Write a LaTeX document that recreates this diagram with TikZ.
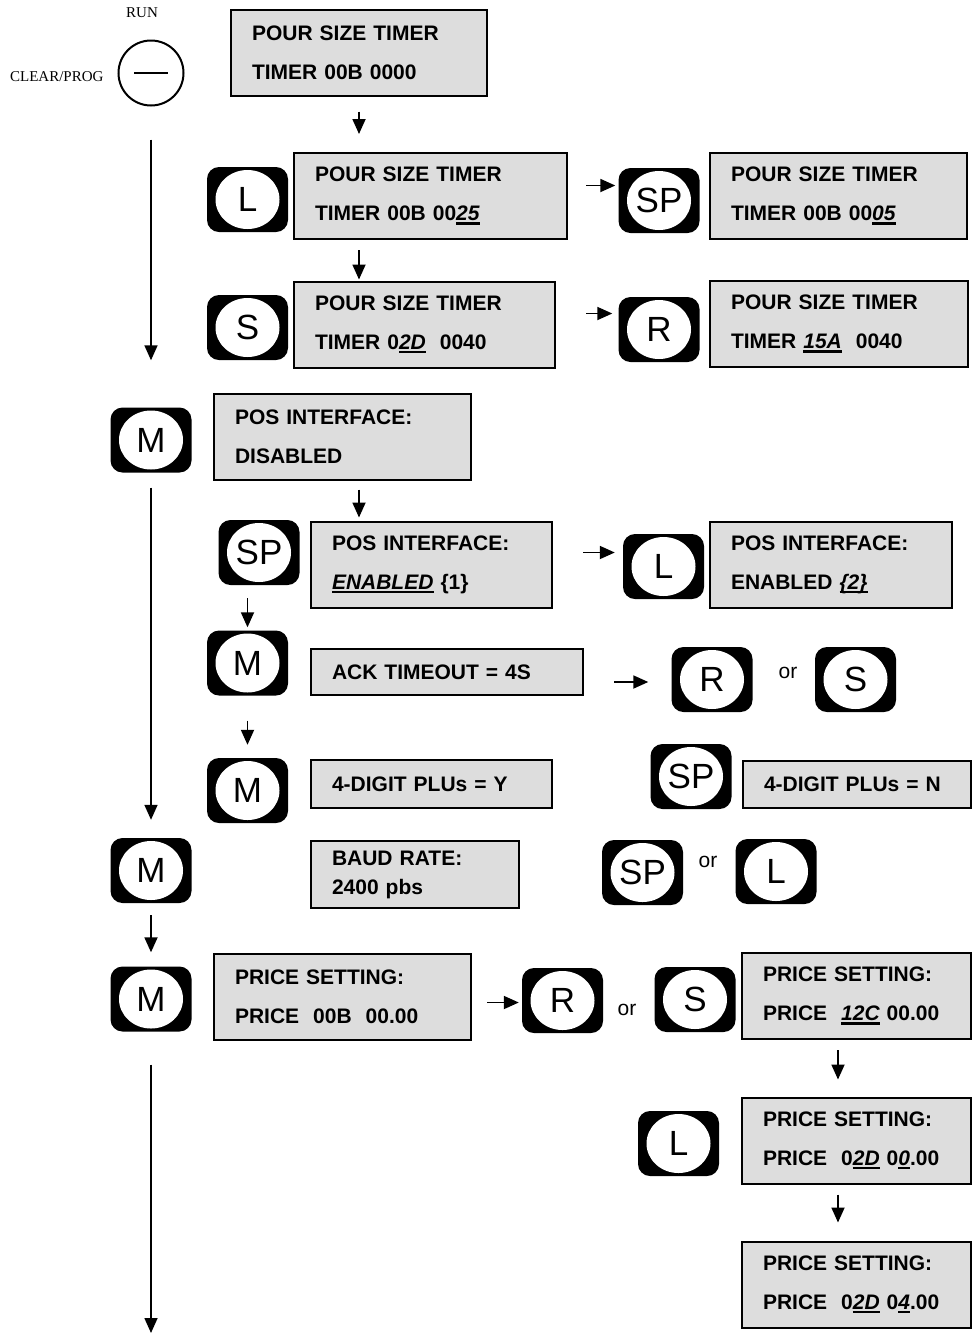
\documentclass[tikz,border=0pt]{standalone}
\usepackage{fontspec}
\setmainfont{Liberation Sans}
\newfontfamily\timesfont{Liberation Serif}
\usepackage{tikz}
\usetikzlibrary{arrows.meta,positioning,calc}
\usepackage{xcolor}
\definecolor{ScreenGrey}{HTML}{DDDDDD}
\newcommand{\screenfont}{\fontsize{21}{39}\selectfont\bfseries}
\newcommand{\keyfont}{\fontsize{35}{35}\selectfont}
\newsavebox{\cursbox}
\newcommand{\curs}[1]{\leavevmode\sbox{\cursbox}{\itshape #1}\rlap{\rule[-4pt]{\wd\cursbox}{2.5pt}}\usebox{\cursbox}}
\tikzset{
 screen/.style={draw=black, line width=2pt, fill=ScreenGrey, inner xsep=21pt, inner ysep=0pt, align=left, font=\screenfont, text width=#1pt-42pt, minimum height=86pt},
 keycap/.style={rectangle, rounded corners=12pt, fill=black, minimum width=81pt, minimum height=65pt, inner sep=0pt, font=\keyfont,
   path picture={\fill[white] (path picture bounding box.center) ellipse [x radius=32pt, y radius=29.5pt];}},
 orlabel/.style={font=\fontsize{21}{21}\selectfont, inner sep=0pt},
 arr/.style={-{Triangle[length=15pt,width=13pt]}, line width=1.8pt},
 longarr/.style={-{Triangle[length=15pt,width=13pt]}, line width=1.6pt}
}
\begin{document}
\begin{tikzpicture}[x=1pt,y=-1pt]
\useasboundingbox (0,0) rectangle (972,1334);
% mode switch
\node[font=\timesfont\fontsize{15}{15}\selectfont] (run) at (142,13) {RUN};
\node[font=\timesfont\fontsize{15}{15}\selectfont, anchor=east] (clr) at (107,77) {CLEAR/PROG};
\node[circle, draw, line width=2pt, minimum size=65pt, inner sep=0pt] (sw) at (151,73) {};
\draw[line width=2.5pt] ([xshift=-17pt]sw.center) -- ([xshift=17pt]sw.center);
\node[screen=256] (t0) at (359,52.5) {POUR SIZE TIMER\\TIMER 00B 0000};

% pour size timer
\node[keycap] (kL1) at (247.5,199.5) {L};
\node[screen=273] (b1) at (430.5,196) {POUR SIZE TIMER\\TIMER 00B 00\curs{25}};
\node[keycap] (kSP1) at (659,200.5) {SP};
\node[screen=257] (b2) at (838.5,196) {POUR SIZE TIMER\\TIMER 00B 00\curs{05}};
\node[keycap] (kS1) at (247.5,327.5) {S};
\node[screen=261] (b3) at (424.5,324.5) {POUR SIZE TIMER\\TIMER 0\curs{2D}\ \ 0040};
\node[keycap] (kR1) at (659,329.5) {R};
\node[screen=258] (b4) at (839,324) {POUR SIZE TIMER\\TIMER \curs{15A}\ \ 0040};

% pos interface
\node[keycap] (m1) at (151,440) {M};
\node[screen=257] (b5) at (342.5,436.5) {POS INTERFACE:\\DISABLED};
\node[keycap] (kSP2) at (259,552.5) {SP};
\node[screen=241] (b6) at (431.5,564.5) {POS INTERFACE:\\\curs{ENABLED} \{1\}};
\node[keycap] (kL2) at (663.5,566.5) {L};
\node[screen=242] (b7) at (831,564.5) {POS INTERFACE:\\ENABLED \curs{\{2\}}};
\node[keycap] (m2) at (247.5,663) {M};
\node[screen=272, minimum height=46pt] (b8) at (447,672) {ACK TIMEOUT = 4S};
\node[keycap] (kR2) at (712,679.5) {R};
\node[orlabel] (or1) at (788,673) {or};
\node[keycap] (kS2) at (855.5,679.5) {S};
\node[keycap] (m3) at (247.5,790.5) {M};
\node[screen=241, minimum height=48pt] (b9) at (431.5,784) {4-DIGIT PLUs = Y};
\node[keycap] (kSP3) at (691,776.5) {SP};
\node[screen=228, minimum height=47pt] (b10) at (857,784.5) {4-DIGIT PLUs = N};

% baud rate
\node[keycap] (m4) at (151,870.5) {M};
\node[screen=208, minimum height=67pt, font=\fontsize{21}{29}\selectfont\bfseries] (b11) at (415,874.5) {BAUD RATE:\\2400 pbs};
\node[keycap] (kSP4) at (642.5,872.5) {SP};
\node[orlabel] (or2) at (708,862) {or};
\node[keycap] (kL4) at (776,871.5) {L};

% price setting
\node[keycap] (m5) at (151,999) {M};
\node[screen=257] (b12) at (342.5,996.5) {PRICE SETTING:\\PRICE\ \ 00B\ \ 00.00};
\node[keycap] (kR3) at (562.5,1000.5) {R};
\node[orlabel] (or3) at (627,1010) {or};
\node[keycap] (kS3) at (695,999.5) {S};
\node[screen=229] (b13) at (856.5,996) {PRICE SETTING:\\PRICE\ \ \curs{12C} 00.00};
\node[keycap] (kL5) at (678.5,1143.5) {L};
\node[screen=229] (b14) at (856.5,1140.5) {PRICE SETTING:\\PRICE\ \ 0\curs{2D} 0\curs{0}.00};
\node[screen=229] (b15) at (856.5,1284.5) {PRICE SETTING:\\PRICE\ \ 0\curs{2D} 0\curs{4}.00};
\coordinate (tail) at (151,1333);

% connectors
\draw[longarr, shorten <=33pt, shorten >=47pt] (sw.south) -- (m1.north);
\draw[longarr, shorten <=15pt, shorten >=18pt] (m1.south) -- (m4.north);
\draw[arr, shorten <=12pt, shorten >=14pt] (m4.south) -- (m5.north);
\draw[longarr, shorten <=33pt] (m5.south) -- (tail);
\draw[arr, shorten <=15pt, shorten >=18pt] (t0.south) -- (t0.south |- b1.north);
\draw[arr, shorten <=10pt, shorten >=1pt] (b1.south -| t0.south) -- (b3.north -| t0.south);
\draw[arr, shorten <=18pt, shorten >=3pt] ([yshift=10.5pt]b1.east) -- ([yshift=10.5pt]b1.east -| kSP1.west);
\draw[arr, shorten <=30pt, shorten >=6pt] ([yshift=11pt]b3.east) -- ([yshift=11pt]b3.east -| kR1.west);
\draw[arr, shorten <=9pt, shorten >=3pt] (b5.south -| t0.south) -- (b6.north -| t0.south);
\draw[arr, shorten <=30pt, shorten >=8pt] ([yshift=12pt]b6.east) -- ([yshift=12pt]b6.east -| kL2.west);
\draw[arr, shorten <=13pt, shorten >=3pt] (m2.north |- kSP2.south) -- (m2.north);
\draw[arr, shorten <=30pt, shorten >=23pt] ([yshift=-10pt]b8.east) -- ([yshift=-10pt]b8.east -| kR2.west);
\draw[arr, shorten <=25pt, shorten >=13pt] (m2.south) -- (m3.north);
\draw[arr, shorten <=15pt, shorten >=3pt] ([yshift=-6pt]b12.east) -- ([yshift=-6pt]b12.east -| kR3.west);
\draw[arr, shorten <=10pt, shorten >=17pt] ([xshift=-18.5pt]b13.south) -- ([xshift=-18.5pt]b14.north);
\draw[arr, shorten <=10pt, shorten >=18pt] ([xshift=-18.5pt]b14.south) -- ([xshift=-18.5pt]b15.north);
\end{tikzpicture}
\end{document}
